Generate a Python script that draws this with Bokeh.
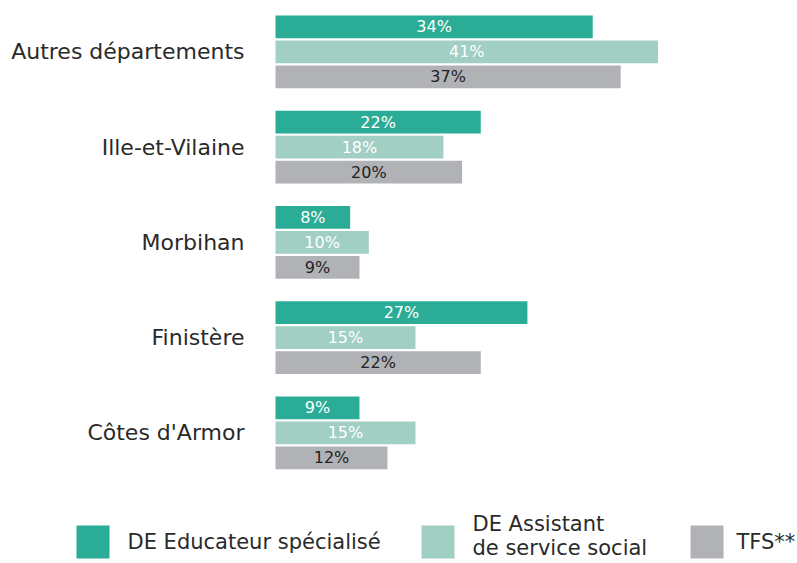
from bokeh.plotting import figure
from bokeh.models import ColumnDataSource, Range1d
from bokeh.core.properties import value
from bokeh.transform import dodge
from bokeh.embed import file_html
from bokeh.resources import INLINE

# ---- data ----
categories = ["Côtes d'Armor", "Finistère", "Morbihan", "Ille-et-Vilaine", "Autres départements"]
educateur = [9, 27, 8, 22, 34]
assistant = [15, 15, 10, 18, 41]
tfs = [12, 22, 9, 20, 37]
series_names = ["DE Educateur spécialisé", "DE Assistant\nde service social", "TFS**"]
series_colors = ["#2aac96", "#a1cfc4", "#b1b2b6"]
label_colors = ["#ffffff", "#ffffff", "#222222"]

FONT = "DejaVu Sans"

W, H = 797, 563
PX_PER_UNIT_X = 9.33      # px per percent
PX_PER_UNIT_Y = 95.25     # px per category
X0_PX = 275               # px of value 0
Y_TOP = 4 + 51.3 / PX_PER_UNIT_Y

p = figure(width=W, height=H, output_backend="svg", toolbar_location=None,
           x_range=Range1d(-X0_PX / PX_PER_UNIT_X, (W - X0_PX) / PX_PER_UNIT_X),
           y_range=Range1d(Y_TOP - H / PX_PER_UNIT_Y, Y_TOP),
           min_border=0, outline_line_color=None)
p.axis.visible = False
p.grid.visible = False
p.background_fill_color = "white"
p.border_fill_color = "white"

idx = list(range(len(categories)))
src = ColumnDataSource(dict(idx=idx, cat=categories,
                            educ=educateur, assist=assistant, tfs=tfs,
                            educ_l=[f"{v}%" for v in educateur],
                            assist_l=[f"{v}%" for v in assistant],
                            tfs_l=[f"{v}%" for v in tfs],
                            educ_h=[v / 2 for v in educateur],
                            assist_h=[v / 2 for v in assistant],
                            tfs_h=[v / 2 for v in tfs]))

step = 25 / PX_PER_UNIT_Y
bar_h = 22.7 / PX_PER_UNIT_Y
offsets = [step, 0, -step]
cols = ["educ", "assist", "tfs"]

for col, off, color, lc in zip(cols, offsets, series_colors, label_colors):
    p.hbar(y=dodge("idx", off), left=0, right=col, height=bar_h, source=src,
           fill_color=color, line_color=None)
    p.text(x=col + "_h", y=dodge("idx", off), text=col + "_l", source=src,
           text_align="center", text_baseline="middle",
           text_font=value(FONT), text_font_size="16px", text_color=lc)

# category labels
p.text(x=-(31 / PX_PER_UNIT_X), y="idx", text="cat", source=src,
       text_align="right", text_baseline="middle",
       text_font=value(FONT), text_font_size="22px", text_color="#2a2a2a")

# ---- manual legend (image px -> data) ----
def dx(px):
    return (px - X0_PX) / PX_PER_UNIT_X

def dy(py):
    return Y_TOP - py / PX_PER_UNIT_Y

sq_left = [76, 421, 690]
txt_left = [127, 472, 736]
sq_size = 33
sq_top = 525
leg_src = ColumnDataSource(dict(
    left=[dx(v) for v in sq_left],
    right=[dx(v + sq_size) for v in sq_left],
    top=[dy(sq_top)] * 3,
    bottom=[dy(sq_top + sq_size)] * 3,
    color=series_colors,
    tx=[dx(v) for v in txt_left],
    ty=[dy(541), dy(535), dy(541)],
    label=series_names))
p.quad(left="left", right="right", top="top", bottom="bottom", color="color",
       line_color=None, source=leg_src)
p.text(x="tx", y="ty", text="label", source=leg_src, text_align="left",
       text_baseline="middle", text_font=value(FONT), text_font_size="21px",
       text_line_height=1.0, text_color="#2a2a2a")

open("out.html", "w").write(file_html(p, INLINE))
